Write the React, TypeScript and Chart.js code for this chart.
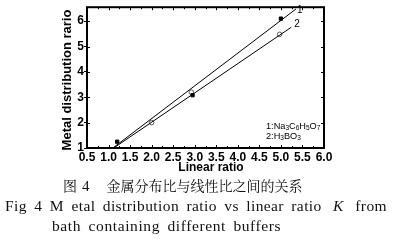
import React, { useEffect, useRef } from "react";
import { Chart, registerables } from "chart.js";

Chart.register(...registerables);

// ---- data ----
const xTickValues = [0.5, 1.0, 1.5, 2.0, 2.5, 3.0, 3.5, 4.0, 4.5, 5.0, 5.5, 6.0];
const yTickValues = [1, 2, 3, 4, 5, 6];
const citrateX = [1.2, 2.95, 5.0];
const citrateY = [1.25, 3.08, 6.1];
const boricX = [2.0, 2.92, 4.97];
const boricY = [2.0, 3.2, 5.48];
const fit1X = [1.1, 5.35];
const fit1Y = [1.0, 6.48];
const fit2X = [1.12, 5.24];
const fit2Y = [1.0, 5.76];
const lineLabels = ["1", "2"];
const legendLines = [
  [["1:Na", false], ["3", true], ["C", false], ["6", true], ["H", false], ["5", true], ["O", false], ["7", true]],
  [["2:H", false], ["3", true], ["BO", false], ["3", true]],
] as [string, boolean][][];
const xTitle = "Linear ratio";
const yTitle = "Metal distribution rario";

const toPts = (xs: number[], ys: number[]) => xs.map((x, i) => ({ x, y: ys[i] }));

const SANS = "'Liberation Sans', Arial, sans-serif";

const decor = {
  id: "decor",
  afterDraw(chart: any) {
    const { ctx, chartArea: a, scales } = chart;
    const xs = scales.x;
    const ys = scales.y;
    ctx.save();
    ctx.strokeStyle = "#000";
    ctx.fillStyle = "#000";
    // inner ticks
    ctx.lineWidth = 1;
    ctx.beginPath();
    for (let i = 0; i < xTickValues.length - 1; i++) {
      for (let k = 0; k < 2; k++) {
        const v = xTickValues[i] + k * 0.25;
        const px = Math.round(xs.getPixelForValue(v)) + 0.5;
        const len = k === 0 ? 3 : 2;
        ctx.moveTo(px, a.bottom);
        ctx.lineTo(px, a.bottom - len);
        ctx.moveTo(px, a.top);
        ctx.lineTo(px, a.top + len);
      }
    }
    for (const v of yTickValues) {
      const py = Math.round(ys.getPixelForValue(v)) + 0.5;
      ctx.moveTo(a.left, py);
      ctx.lineTo(a.left + 3, py);
      ctx.moveTo(a.right, py);
      ctx.lineTo(a.right - 3, py);
    }
    ctx.stroke();
    // frame
    ctx.lineWidth = 2;
    ctx.strokeRect(a.left, a.top, a.right - a.left, a.bottom - a.top);

    // axis titles
    ctx.font = `bold 13px ${SANS}`;
    ctx.textAlign = "center";
    ctx.textBaseline = "middle";
    ctx.save();
    ctx.translate(67, 80);
    ctx.rotate(-Math.PI / 2);
    ctx.fillText(yTitle, 0, 0);
    ctx.restore();
    ctx.font = `bold 12px ${SANS}`;
    ctx.fillText(xTitle, 211, 168);

    // line end labels
    ctx.font = `10px ${SANS}`;
    ctx.textAlign = "left";
    ctx.fillText(lineLabels[0], xs.getPixelForValue(fit1X[1]) + 1, ys.getPixelForValue(fit1Y[1]) + 1);
    ctx.fillText(lineLabels[1], xs.getPixelForValue(fit2X[1]) + 3, ys.getPixelForValue(fit2Y[1]) - 3);

    // legend text with subscripts
    const lx = a.left + 179;
    legendLines.forEach((parts, li) => {
      let cx = lx;
      const cy = 126 + li * 10;
      for (const [t, sub] of parts) {
        ctx.font = sub ? `6.5px ${SANS}` : `9.2px ${SANS}`;
        ctx.fillText(t, cx, sub ? cy + 2.5 : cy);
        cx += ctx.measureText(t).width;
      }
    });
    ctx.restore();
  },
};

export default function App() {
  const ref = useRef<HTMLCanvasElement | null>(null);
  useEffect(() => {
    if (!ref.current) return;
    const chart = new Chart(ref.current, {
      type: "scatter",
      data: {
        datasets: [
          {
            type: "line",
            data: toPts(fit1X, fit1Y),
            borderColor: "#000",
            borderWidth: 1,
            pointRadius: 0,
            fill: false,
          },
          {
            type: "line",
            data: toPts(fit2X, fit2Y),
            borderColor: "#000",
            borderWidth: 1,
            pointRadius: 0,
            fill: false,
          },
          {
            data: toPts(citrateX, citrateY),
            pointStyle: "rect",
            pointRadius: 2.3,
            backgroundColor: "#000",
            borderColor: "#000",
            borderWidth: 1,
          },
          {
            data: toPts(boricX, boricY),
            pointStyle: "circle",
            pointRadius: 2.3,
            backgroundColor: "#fff",
            borderColor: "#555",
            borderWidth: 1,
          },
        ] as any,
      },
      options: {
        animation: false,
        responsive: false,
        events: [],
        layout: { padding: { left: 0, right: 71, top: 3, bottom: 0 } },
        plugins: { legend: { display: false }, tooltip: { enabled: false } },
        scales: {
          x: {
            type: "linear",
            min: 0.5,
            max: 6.0,
            afterFit: (s: any) => {
              s.height = 32;
            },
            afterBuildTicks: (s: any) => {
              s.ticks = xTickValues.map((v) => ({ value: v }));
            },
            ticks: {
              color: "#000",
              font: { family: SANS, size: 12, weight: "bold" },
              padding: 2,
              maxRotation: 0,
              autoSkip: false,
              callback: (v: any) => Number(v).toFixed(1),
            },
            grid: { display: false, drawTicks: false, tickLength: 0 },
            border: { display: false },
          },
          y: {
            type: "linear",
            min: 1,
            max: 6.55,
            afterFit: (s: any) => {
              s.width = 87;
            },
            afterBuildTicks: (s: any) => {
              s.ticks = yTickValues.map((v) => ({ value: v }));
            },
            ticks: {
              color: "#000",
              font: { family: SANS, size: 12, weight: "bold" },
              padding: 0,
              autoSkip: false,
              callback: (v: any) => String(v),
            },
            grid: {
              drawOnChartArea: false,
              drawTicks: true,
              tickLength: 3,
              color: "#000",
            },
            border: { display: false },
          },
        },
      } as any,
      plugins: [decor],
    });
    return () => chart.destroy();
  }, []);

  const serif = "'Liberation Serif', 'Times New Roman', serif";
  const cjk = "'Noto Serif CJK SC', 'Noto Sans CJK SC', serif";
  return (
    <div style={{ position: "absolute", left: 0, top: 0, width: 395, height: 243, background: "#fff", overflow: "hidden" }}>
      <canvas ref={ref} width={395} height={180} style={{ display: "block", position: "absolute", left: 0, top: 0 }} />
      <div style={{ position: "absolute", left: 63, top: 176, fontFamily: cjk, fontSize: 14, lineHeight: "18px", whiteSpace: "nowrap", color: "#111" }}>
        <span>图</span>
        <span style={{ fontFamily: serif, marginLeft: 5, fontSize: 15 }}>4</span>
        <span style={{ marginLeft: 17 }}>金属分布比与线性比之间的关系</span>
      </div>
      <div style={{ position: "absolute", left: 5, top: 197, width: 382, fontFamily: serif, fontSize: 15.5, lineHeight: "18px", whiteSpace: "nowrap", color: "#111", letterSpacing: 0.4, textAlign: "justify", textAlignLast: "justify" as any }}>
        Fig 4 M etal distribution ratio vs linear ratio <i style={{ margin: "0 4px" }}>K</i> from
      </div>
      <div style={{ position: "absolute", left: 52, top: 217, fontFamily: serif, fontSize: 15.5, lineHeight: "18px", whiteSpace: "nowrap", color: "#111", letterSpacing: 0.6, wordSpacing: 3 }}>
        bath containing different buffers
      </div>
    </div>
  );
}
